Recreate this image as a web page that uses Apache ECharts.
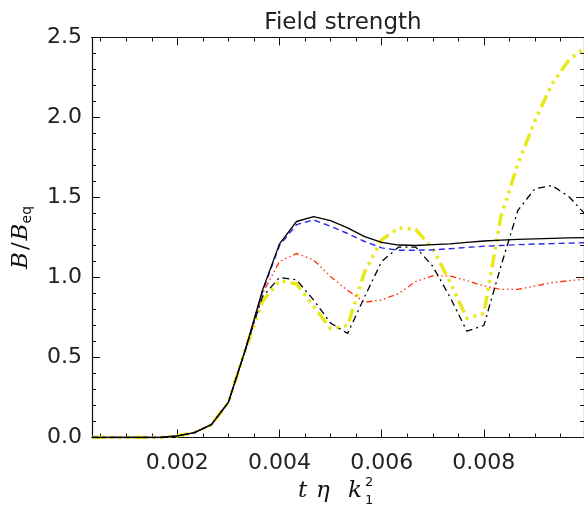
<!DOCTYPE html>
<html>
<head>
<meta charset="utf-8">
<script src="https://cdn.jsdelivr.net/npm/echarts@6/dist/echarts.min.js"></script>
<style>
  html, body { margin: 0; padding: 0; background: #fff; }
  #chart { width: 584px; height: 508px; }
</style>
</head>
<body>
<div id="chart"></div>
<script>
// samples are every 1/3000 in t eta k1^2 (k = 1..30)
const steps = [1, 2, 3, 4, 5, 6, 7, 8, 9, 10, 11, 12, 13, 14, 15, 16, 17, 18, 19, 20, 21, 22, 23, 24, 25, 26, 27, 28, 29, 30];

const solidBlack = [0, 0, 0, 0, 0, 0.01, 0.03, 0.08, 0.22, 0.55, 0.92, 1.21, 1.35, 1.38, 1.355, 1.31, 1.255, 1.22, 1.203, 1.20, 1.205, 1.21, 1.22, 1.228, 1.234, 1.238, 1.242, 1.245, 1.248, 1.25];
const dashedBlue = [0, 0, 0, 0, 0, 0.01, 0.03, 0.08, 0.22, 0.55, 0.91, 1.20, 1.33, 1.36, 1.32, 1.275, 1.225, 1.185, 1.17, 1.17, 1.173, 1.18, 1.188, 1.195, 1.20, 1.205, 1.209, 1.212, 1.215, 1.218];
const dottedRed = [0, 0, 0, 0, 0, 0.01, 0.03, 0.08, 0.22, 0.55, 0.90, 1.10, 1.15, 1.11, 1.005, 0.92, 0.845, 0.86, 0.90, 0.975, 1.01, 1.01, 0.98, 0.947, 0.926, 0.926, 0.947, 0.968, 0.98, 0.99];
const dashDotBlack = [0, 0, 0, 0, 0, 0.01, 0.03, 0.08, 0.22, 0.55, 0.88, 1.00, 0.985, 0.86, 0.715, 0.65, 0.88, 1.10, 1.19, 1.19, 1.07, 0.88, 0.665, 0.70, 1.07, 1.42, 1.555, 1.575, 1.505, 1.39];
const thickYellow = [0, 0, 0, 0, 0, 0.01, 0.03, 0.08, 0.22, 0.55, 0.85, 0.98, 0.96, 0.82, 0.68, 0.70, 1.035, 1.235, 1.31, 1.30, 1.18, 0.975, 0.745, 0.775, 1.38, 1.71, 1.98, 2.21, 2.36, 2.44];

const xMajor = [0.002, 0.004, 0.006, 0.008];
const xMinor = [0.0005, 0.001, 0.0015, 0.0025, 0.003, 0.0035, 0.0045, 0.005, 0.0055, 0.0065, 0.007, 0.0075, 0.0085, 0.009, 0.0095];

const X_MIN = 0.00033;
const X_MAX = 0.00996;

const times = steps.map(k => k / 3000);
const pairs = vals => times.map((t, i) => [t, vals[i]]);

const font = 'DejaVu Sans';
const serif = 'DejaVu Serif';
const ink = '#111';

function xAxisDef(position, values, len, withLabels) {
  return {
    type: 'value',
    position: position,
    min: X_MIN,
    max: X_MAX,
    axisLine: { show: true, lineStyle: { color: ink, width: 1.2 } },
    axisTick: { show: true, inside: true, length: len, customValues: values, lineStyle: { color: ink, width: 1 } },
    axisLabel: withLabels ? {
      show: true, customValues: values, margin: 15,
      color: '#222', fontFamily: font, fontSize: 22,
      formatter: v => v.toFixed(3)
    } : { show: false },
    splitLine: { show: false }
  };
}

function yAxisDef(position, withLabels) {
  return {
    type: 'value',
    position: position,
    min: 0,
    max: 2.5,
    interval: 0.5,
    axisLine: { show: true, lineStyle: { color: ink, width: 1.2 } },
    axisTick: { show: true, inside: true, length: 8, lineStyle: { color: ink, width: 1 } },
    minorTick: { show: true, splitNumber: 5, length: 4, lineStyle: { color: ink, width: 1 } },
    axisLabel: withLabels ? {
      show: true, margin: 10, color: '#222', fontFamily: font, fontSize: 22,
      formatter: v => v.toFixed(1)
    } : { show: false },
    splitLine: { show: false },
    minorSplitLine: { show: false }
  };
}

const yName = Object.assign(yAxisDef('left', true), {
  name: '{b|B}{n|/}{b|B}{s|eq}',
  nameLocation: 'middle',
  nameGap: 58,
  nameTextStyle: {
    rich: {
      b: { fontFamily: serif, fontStyle: 'italic', fontSize: 23, color: ink, lineHeight: 26 },
      n: { fontFamily: serif, fontSize: 23, color: ink, lineHeight: 26, padding: [0, 2, 0, 2] },
      s: { fontFamily: font, fontSize: 14, color: ink, verticalAlign: 'bottom', lineHeight: 12 }
    }
  }
});

function lineSeries(vals, color, width, dash) {
  return {
    type: 'line',
    xAxisIndex: 0,
    yAxisIndex: 0,
    data: pairs(vals),
    symbol: 'none',
    smooth: false,
    lineStyle: { color: color, width: width, type: dash }
  };
}

const chart = echarts.init(document.getElementById('chart'), null, { renderer: 'canvas' });
chart.setOption({
  animation: false,
  backgroundColor: '#fff',
  title: {
    text: 'Field strength',
    left: 338,
    top: 7,
    textAlign: 'center',
    textStyle: { fontFamily: font, fontWeight: 'normal', fontSize: 23, color: '#222' }
  },
  grid: { left: 92, right: 0, top: 37.5, bottom: 70.5, containLabel: false },
  xAxis: [
    xAxisDef('bottom', xMajor, 8, true),
    xAxisDef('bottom', xMinor, 4, false),
    xAxisDef('top', xMajor, 8, false),
    xAxisDef('top', xMinor, 4, false)
  ],
  yAxis: [yName, yAxisDef('right', false)],
  graphic: [
    { type: 'text', left: 298, top: 480, style: { text: 't', fontFamily: serif, fontStyle: 'italic', fontSize: 23, fill: ink } },
    { type: 'text', left: 316, top: 480, style: { text: 'η', fontFamily: serif, fontStyle: 'italic', fontSize: 23, fill: ink } },
    { type: 'text', left: 348, top: 480, style: { text: 'k', fontFamily: serif, fontStyle: 'italic', fontSize: 23, fill: ink } },
    { type: 'text', left: 365, top: 476, style: { text: '2', fontFamily: font, fontSize: 13, fill: ink } },
    { type: 'text', left: 365, top: 494, style: { text: '1', fontFamily: font, fontSize: 13, fill: ink } }
  ],
  series: [
    lineSeries(thickYellow, '#e8e81a', 3.5, [13, 5, 3, 5, 3, 5, 3, 5]),
    lineSeries(dottedRed, '#ff3a10', 1.4, [6, 3, 1.5, 3, 1.5, 3, 1.5, 3]),
    lineSeries(dashDotBlack, '#000', 1.3, [7, 4, 2, 4]),
    lineSeries(dashedBlue, '#2a2ae6', 1.4, [6, 4]),
    lineSeries(solidBlack, '#000', 1.3, 'solid')
  ]
});
</script>
</body>
</html>
